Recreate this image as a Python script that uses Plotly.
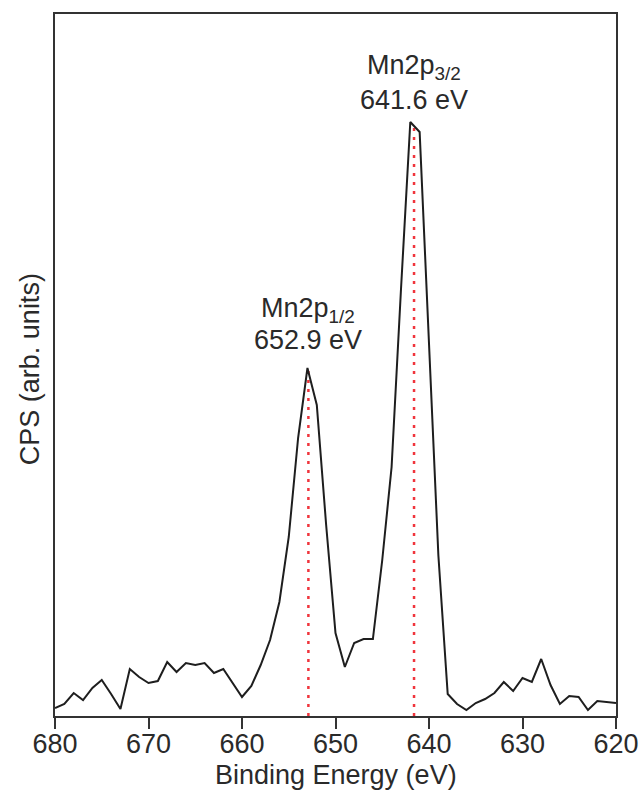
import plotly.graph_objects as go

# Binding energy (eV) and intensity (arb. units)
energy = list(range(680, 619, -1))
intensity = [8, 12, 23, 16, 28, 36, 22, 7, 47, 39,
             33, 35, 54, 44, 53, 51, 53, 43, 47, 33,
             19, 30, 51, 76, 114, 179, 278, 348, 311, 191,
             83, 49, 73, 77, 77, 156, 249, 426, 594, 584,
             376, 161, 22, 12, 6, 13, 17, 23, 34, 25,
             38, 34, 57, 31, 12, 20, 19, 6, 15, 14, 13]

peak_energies = [652.9, 641.6]
peak_heights = [350, 592]
peak_names = ["Mn2p<sub>1/2</sub>", "Mn2p<sub>3/2</sub>"]
peak_labels = ["652.9 eV", "641.6 eV"]
x_ticks = [680, 670, 660, 650, 640, 630, 620]

FONT = "Liberation Sans, Arial, sans-serif"
TXT = "#2a2a2a"
AX = "#333333"

fig = go.Figure()

for e, h in zip(peak_energies, peak_heights):
    fig.add_trace(go.Scatter(
        x=[e, e], y=[0, h], mode="lines",
        line=dict(color="#f0343c", width=2.5, dash="3px,6px"),
        hoverinfo="skip", showlegend=False))

fig.add_trace(go.Scatter(
    x=energy, y=intensity, mode="lines",
    line=dict(color="#1e1e1e", width=2),
    showlegend=False))

# label positions (paper y)
name_y = [0.578, 0.925]
val_y = [0.535, 0.878]
for e, n, l, ny, vy in zip(peak_energies, peak_names, peak_labels, name_y, val_y):
    fig.add_annotation(x=e, y=ny, xref="x", yref="paper", text=n,
                       showarrow=False, font=dict(size=27, color=TXT, family=FONT),
                       xanchor="center", yanchor="middle")
    fig.add_annotation(x=e, y=vy, xref="x", yref="paper", text=l,
                       showarrow=False, font=dict(size=27, color=TXT, family=FONT),
                       xanchor="center", yanchor="middle")

# axis titles
fig.add_annotation(x=0.5, y=-0.084, xref="paper", yref="paper",
                   text="Binding Energy (eV)", showarrow=False,
                   font=dict(size=27, color=TXT, family=FONT),
                   xanchor="center", yanchor="middle")
fig.add_annotation(x=-0.0446, y=0.494, xref="paper", yref="paper",
                   text="CPS (arb. units)", showarrow=False, textangle=-90,
                   font=dict(size=27, color=TXT, family=FONT),
                   xanchor="center", yanchor="middle")

fig.update_layout(
    width=643, height=792,
    margin=dict(l=55, r=27, t=14, b=76, autoexpand=False),
    paper_bgcolor="white", plot_bgcolor="white",
    font=dict(family=FONT, color=TXT, size=27),
)
fig.update_xaxes(
    range=[680, 620], tickvals=x_ticks, automargin=False,
    ticks="outside", ticklen=11, tickwidth=1.5, tickcolor=AX,
    ticklabelstandoff=-8,
    showline=True, linewidth=1.5, linecolor=AX, mirror=True,
    showgrid=False, zeroline=False,
    tickfont=dict(size=27, color=TXT, family=FONT),
)
fig.update_yaxes(
    range=[0, 702], automargin=False,
    showticklabels=False, ticks="",
    showline=True, linewidth=1.5, linecolor=AX, mirror=True,
    showgrid=False, zeroline=False,
)

fig.write_html("out.html",
               config={"displayModeBar": False},
               post_script="document.body.style.margin='0px';document.body.style.overflow='hidden';")
